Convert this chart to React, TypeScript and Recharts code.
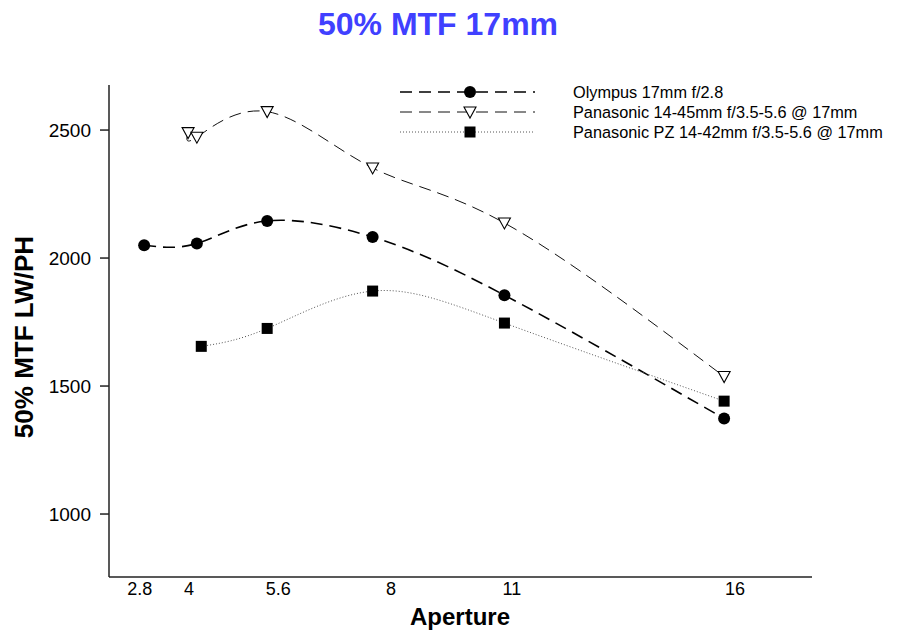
import React from 'react';
import { CartesianGrid, Line, LineChart, XAxis, YAxis } from 'recharts';

// f-stop values and 50% MTF readings (LW/PH) per lens
const olympusAperture = [2.8, 4, 5.6, 8, 11, 16];
const olympusMtf = [2050, 2057, 2145, 2082, 1855, 1373];

const pana1445Aperture = [3.8, 4, 5.6, 8, 11, 16];
const pana1445Mtf = [2490, 2472, 2572, 2352, 2137, 1537];

const panaPzAperture = [4.1, 5.6, 8, 11, 16];
const panaPzMtf = [1655, 1725, 1871, 1746, 1441];

const seriesNames = [
  'Olympus 17mm f/2.8',
  'Panasonic 14-45mm f/3.5-5.6 @ 17mm',
  'Panasonic PZ 14-42mm f/3.5-5.6 @ 17mm',
];

// the original plot puts its aperture labels a little off the true stops
const xTickValues = [2.7, 3.82, 5.85, 8.42, 11.17, 16.25];
const xTickLabels = ['2.8', '4', '5.6', '8', '11', '16'];
const yTicks = [1000, 1500, 2000, 2500];

const toRows = (xs: number[], ys: number[]) => xs.map((x, i) => ({ x, y: ys[i] }));

const FONT = '"Liberation Sans", Arial, Helvetica, sans-serif';

type MarkerProps = { cx?: number; cy?: number };

const CircleMark = ({ cx = 0, cy = 0 }: MarkerProps) => <circle cx={cx} cy={cy} r={6} fill="#000" />;

const SquareMark = ({ cx = 0, cy = 0 }: MarkerProps) => (
  <rect x={cx - 5.5} y={cy - 5.5} width={11} height={11} fill="#000" />
);

const TriangleMark = ({ cx = 0, cy = 0 }: MarkerProps) => (
  <polygon
    points={`${cx - 6},${cy - 5} ${cx + 6},${cy - 5} ${cx},${cy + 6}`}
    fill="#fff"
    stroke="#000"
    strokeWidth={1.1}
  />
);

const series = [
  { name: seriesNames[0], data: toRows(olympusAperture, olympusMtf), dash: '12 7', width: 1.6, color: '#000', Mark: CircleMark },
  { name: seriesNames[1], data: toRows(pana1445Aperture, pana1445Mtf), dash: '12 7', width: 1, color: '#111', Mark: TriangleMark },
  { name: seriesNames[2], data: toRows(panaPzAperture, panaPzMtf), dash: '1 2', width: 1, color: '#555', Mark: SquareMark },
];

const LegendBox = () => (
  <g>
    {series.map((s, i) => {
      const y = 92 + i * 20;
      return (
        <g key={s.name}>
          <line x1={400} x2={535} y1={y} y2={y} stroke={s.color} strokeWidth={s.width} strokeDasharray={s.dash} />
          <s.Mark cx={470} cy={y} />
          <text x={573} y={y + 6} fontSize={16.3} fontFamily={FONT} fill="#000">
            {s.name}
          </text>
        </g>
      );
    })}
  </g>
);

export default function App() {
  return (
    <div style={{ position: 'absolute', left: 0, top: 0, width: 900, height: 634, background: '#fff', fontFamily: FONT }}>
      <LineChart width={900} height={634} margin={{ top: 85, right: 88, bottom: 9, left: 0 }}>
        <CartesianGrid stroke="none" />
        <XAxis
          type="number"
          dataKey="x"
          domain={[2, 18]}
          ticks={xTickValues}
          interval={0}
          tickFormatter={(_v: number, i: number) => xTickLabels[i]}
          tickLine={false}
          tickSize={0}
          tickMargin={5}
          height={48}
          stroke="#222"
          strokeWidth={1.5}
          tick={{ fill: '#000', fontSize: 18, fontFamily: FONT }}
          allowDataOverflow
        />
        <YAxis
          type="number"
          dataKey="y"
          domain={[754, 2676]}
          ticks={yTicks}
          interval={0}
          width={109}
          tickSize={9}
          tickMargin={9}
          stroke="#222"
          strokeWidth={1.5}
          tick={{ fill: '#000', fontSize: 19, fontFamily: FONT }}
          allowDataOverflow
        />
        {series.map((s) => (
          <Line
            key={s.name}
            data={s.data}
            dataKey="y"
            name={s.name}
            type="natural"
            stroke={s.color}
            strokeWidth={s.width}
            strokeDasharray={s.dash}
            isAnimationActive={false}
            activeDot={false}
            dot={(p: any) => <s.Mark key={`${s.name}-${p.index}`} cx={p.cx} cy={p.cy} />}
          />
        ))}
      </LineChart>
      <svg width={900} height={634} style={{ position: 'absolute', left: 0, top: 0, pointerEvents: 'none' }}>
        <text x={438} y={35} textAnchor="middle" fontSize={32} fontWeight="bold" fontFamily={FONT} fill="#4040ff">
          50% MTF 17mm
        </text>
        <LegendBox />
        <text x={460} y={625} textAnchor="middle" fontSize={24} fontWeight="bold" fontFamily={FONT} fill="#000">
          Aperture
        </text>
        <text
          x={33}
          y={337}
          transform="rotate(-90 33 337)"
          textAnchor="middle"
          fontSize={26}
          fontWeight="bold"
          fontFamily={FONT}
          fill="#000"
        >
          50% MTF LW/PH
        </text>
      </svg>
    </div>
  );
}
